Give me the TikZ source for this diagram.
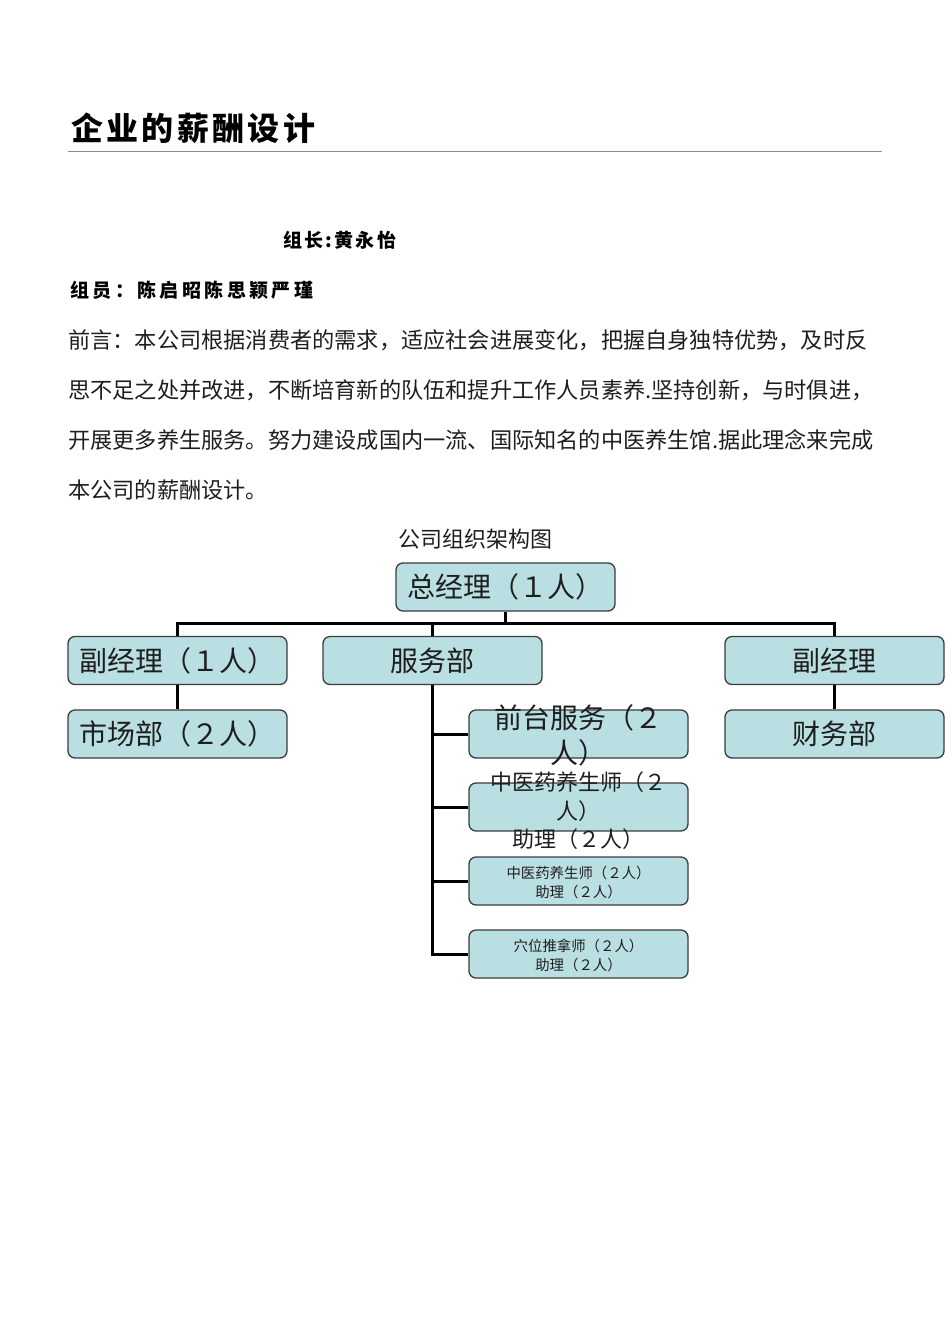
\documentclass[tikz,border=0pt]{standalone}
\usepackage{fontspec}
\setmainfont{Noto Sans CJK SC}
\definecolor{boxfill}{RGB}{186,223,227}
\definecolor{boxline}{RGB}{60,60,60}
\definecolor{txt}{RGB}{30,30,30}
\definecolor{rulegray}{RGB}{140,140,140}
\tikzset{
  box/.style={draw=boxline, fill=boxfill, line width=1.3pt, rounded corners=7pt,
    minimum width=219pt, minimum height=48pt, inner sep=0pt},
  boxtext/.style={text=txt, align=center, inner sep=0pt},
  conn/.style={draw=black, line width=3pt},
  para/.style={anchor=west, text=txt, inner sep=0pt, font=\fontsize{22.2}{26}\selectfont},
}
\begin{document}
\begin{tikzpicture}[x=1pt,y=-1pt]
\useasboundingbox (0,0) rectangle (950,1344);

% title
\node[anchor=west, inner sep=0pt, font=\fontsize{32}{38}\selectfont\bfseries\addfontfeature{LetterSpace=10.5}] (title) at (71,128) {企业的薪酬设计};
\draw[rulegray, line width=1pt] (68,151) -- (882,151);

\node[anchor=west, inner sep=0pt, font=\fontsize{19}{24}\selectfont\bfseries\addfontfeature{LetterSpace=12}] (leader) at (283,240) {组长:黄永怡};
\node[anchor=west, inner sep=0pt, font=\fontsize{19}{24}\selectfont\bfseries\addfontfeature{LetterSpace=18}] (members) at (70,290) {组员：陈启昭陈思颖严瑾};

\node[para] (p1) at (68,340) {前言：本公司根据消费者的需求，适应社会进展变化，把握自身独特优势，及时反};
\node[para] (p2) at (68,390) {思不足之处并改进，不断培育新的队伍和提升工作人员素养.坚持创新，与时俱进，};
\node[para] (p3) at (68,440) {开展更多养生服务。努力建设成国内一流、国际知名的中医养生馆.据此理念来完成};
\node[para] (p4) at (68,490) {本公司的薪酬设计。};

\node[inner sep=0pt, text=txt, font=\fontsize{22}{26}\selectfont] (ctitle) at (475,539) {公司组织架构图};

% boxes
\node[box] (gm) at (505.5,587) {};
\node[box] (dm1) at (177.5,660.5) {};
\node[box] (svc) at (432.5,660.5) {};
\node[box] (dm2) at (834.5,660.5) {};
\node[box] (mkt) at (177.5,734) {};
\node[box] (fin) at (834.5,734) {};
\node[box] (s1) at (578.5,734) {};
\node[box] (s2) at (578.5,807) {};
\node[box] (s3) at (578.5,881) {};
\node[box] (s4) at (578.5,954) {};

% connectors
\draw[conn] (gm.south) -- ++(0,13);
\draw[conn] (dm1.north) -- ++(0,-12.5) -| (dm2.north);
\draw[conn] (svc.north) -- ++(0,-12.5);
\draw[conn] (dm1.south) -- (mkt.north);
\draw[conn] (dm2.south) -- (fin.north);
\draw[conn] (svc.south) -- (svc.south |- s4.west) -- (s4.west);
\draw[conn] (s1.west) -- (s1.west -| svc.south);
\draw[conn] (s2.west) -- (s2.west -| svc.south);
\draw[conn] (s3.west) -- (s3.west -| svc.south);

% box texts
\node[boxtext, font=\fontsize{28}{32}\selectfont] at (gm.center) {总经理（１人）};
\node[boxtext, font=\fontsize{28}{32}\selectfont] at (dm1.center) {副经理（１人）};
\node[boxtext, font=\fontsize{28}{32}\selectfont] at (svc.center) {服务部};
\node[boxtext, font=\fontsize{28}{32}\selectfont] at (dm2.center) {副经理};
\node[boxtext, font=\fontsize{28}{32}\selectfont] at (mkt.center) {市场部（２人）};
\node[boxtext, font=\fontsize{28}{32}\selectfont] at (fin.center) {财务部};
\node[boxtext, font=\fontsize{28}{35}\selectfont] at ([yshift=-1pt]s1.center) {前台服务（２\\人）};
\node[boxtext, font=\fontsize{22}{28.5}\selectfont] at ([yshift=-4pt]s2.center) {中医药养生师（２\\人）\\助理（２人）};
\node[boxtext, font=\fontsize{14.4}{19}\selectfont] at ([yshift=-1.5pt]s3.center) {中医药养生师（２人）\\助理（２人）};
\node[boxtext, font=\fontsize{14.4}{19}\selectfont] at ([yshift=-1.5pt]s4.center) {穴位推拿师（２人）\\助理（２人）};
\end{tikzpicture}
\end{document}
